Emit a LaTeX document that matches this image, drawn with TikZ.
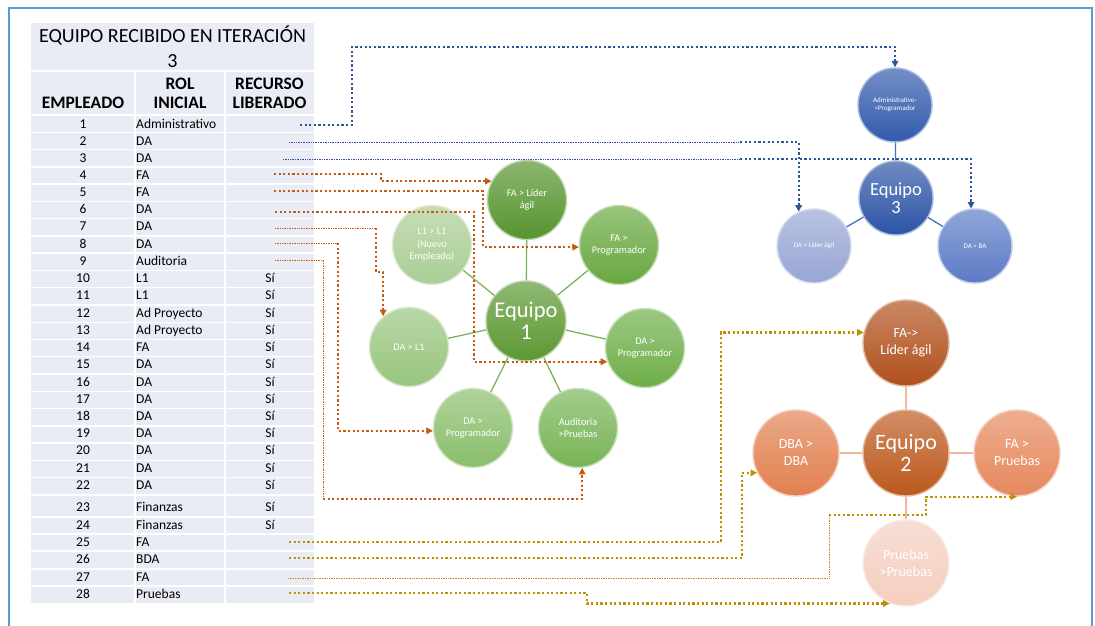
\documentclass[tikz,border=0pt]{standalone}
\usepackage{fontspec}
\setmainfont{Carlito}
\usetikzlibrary{arrows.meta,calc}

\newcommand\setfs[2]{\fontsize{#1}{#2}\selectfont}

% table and frame
\definecolor{tablebg}{RGB}{233,235,245}
\definecolor{framecol}{RGB}{91,155,213}
% team 1 (green)
\definecolor{gC}{RGB}{92,152,50}
\definecolor{gFL}{RGB}{86,148,46}
\definecolor{gFP}{RGB}{104,168,64}
\definecolor{gDPr}{RGB}{110,174,72}
\definecolor{gAud}{RGB}{120,180,86}
\definecolor{gDPl}{RGB}{138,190,108}
\definecolor{gDL}{RGB}{152,197,126}
\definecolor{gL}{RGB}{170,205,148}
\definecolor{gspoke}{RGB}{125,180,90}
% team 3 (blue)
\definecolor{bAdm}{RGB}{50,90,172}
\definecolor{bC}{RGB}{44,84,165}
\definecolor{bDL}{RGB}{152,166,212}
\definecolor{bDB}{RGB}{92,123,198}
\definecolor{bspoke}{RGB}{68,114,196}
% team 2 (orange)
\definecolor{oFL}{RGB}{176,80,28}
\definecolor{oC}{RGB}{188,88,28}
\definecolor{oDBA}{RGB}{226,128,80}
\definecolor{oFP}{RGB}{230,136,92}
\definecolor{oPr}{RGB}{245,206,192}
\definecolor{ospoke}{RGB}{244,182,158}
% connectors
\definecolor{linkO}{RGB}{197,90,17}
\definecolor{linkB}{RGB}{47,85,151}
\definecolor{linkY}{RGB}{191,144,0}

\tikzset{
  ballnode/.style={circle, inner sep=0pt, align=center, text=white,
    top color=#1!68!white, bottom color=#1, draw=#1!40!white, line width=1.4pt},
  gsmall/.style={ballnode=#1, minimum size=79pt, font=\setfs{10.2}{12.5}},
  gbig/.style={ballnode=#1, minimum size=80pt, font=\setfs{22.5}{22}},
  bsmall/.style={ballnode=#1, minimum size=74pt, font=\setfs{7}{8}},
  bbig/.style={ballnode=#1, minimum size=74pt, font=\setfs{18.5}{18}},
  osmall/.style={ballnode=#1, minimum size=86pt, font=\setfs{14}{17}},
  obig/.style={ballnode=#1, minimum size=86pt, font=\setfs{22}{22}},
  spoke/.style={draw=#1, line width=1.3pt},
  thicklink/.style={draw=#1, line width=2.2pt, dash pattern=on 2.2pt off 2.4pt},
  thinlink/.style={draw=#1, line width=0.9pt, dash pattern=on 0.9pt off 0.8pt},
  tip/.style={-{Triangle[length=6.5pt,width=6.5pt]}},
  cell/.style={inner sep=0pt, text height=9.5pt, text depth=2.8pt, font=\setfs{13.5}{16}},
  headcell/.style={inner sep=0pt, font=\bfseries\setfs{17.5}{19}},
  sep/.style={draw=white, line width=1.4pt},
  frameline/.style={draw=framecol, line width=1.6pt}
}

\begin{document}
\begin{tikzpicture}[x=1pt,y=-1pt]
\useasboundingbox (0,0) rectangle (1095,626);
\fill[white] (0,0) rectangle (1095,626);

% outer frame
\draw[frameline] (9,626) -- (9,8) -- (1092,8) -- (1092,626);

% ---------- table ----------
\fill[tablebg] (31,23) rectangle (314,603);
\draw[sep] (31,71) -- (314,71);
\draw[sep] (31,115) -- (314,115);
\foreach \k in {1,...,22} \draw[sep] (31,{115+17.27*\k}) -- (314,{115+17.27*\k});
\foreach \y in {517,534,551,569,586} \draw[sep] (31,\y) -- (314,\y);
\draw[sep] (135,71) -- (135,603);
\draw[sep] (225,71) -- (225,603);

\node[inner sep=0pt, font=\setfs{20}{22}] (title1) at (172.5,35) {EQUIPO RECIBIDO EN ITERACIÓN};
\node[inner sep=0pt, font=\setfs{20}{22}] (title2) at (172.5,61) {3};
\node[headcell] (hEmp) at (83,103) {EMPLEADO};
\node[headcell] (hRol1) at (180,84) {ROL};
\node[headcell] (hRol2) at (180,103) {INICIAL};
\node[headcell] (hRec1) at (269.5,84) {RECURSO};
\node[headcell] (hRec2) at (269.5,103) {LIBERADO};

\foreach \n/\y/\r in {1/125/Administrativo, 2/142/DA, 3/159/DA, 4/176/FA, 5/193/FA,
    6/210/DA, 7/227/DA, 8/245/DA, 9/262/Auditoria, 10/279/L1, 11/296/L1,
    12/314/Ad Proyecto, 13/331/Ad Proyecto, 14/348/FA, 15/365/DA, 16/383/DA,
    17/400/DA, 18/417/DA, 19/434/DA, 20/451/DA, 21/469/DA, 22/486/DA,
    23/508/Finanzas, 24/526/Finanzas, 25/543/FA, 26/560/BDA, 27/578/FA, 28/595/Pruebas}{
  \node[cell] (num\n) at (83,\y) {\n};
  \node[cell, anchor=west] (rol\n) at (136,\y) {\r};
}
\foreach \n/\y in {10/279, 11/296, 12/314, 13/331, 14/348, 15/365, 16/383, 17/400,
    18/417, 19/434, 20/451, 21/469, 22/486, 23/508, 24/526}{
  \node[cell] (lib\n) at (270,\y) {Sí};
}

% ---------- team 1 ----------
\node[gbig=gC]    (g0) at (526,321) {Equipo \\ 1};
\node[gsmall=gFL] (g1) at (527,200) {FA > Líder \\ ágil};
\node[gsmall=gFP] (g2) at (619,245) {FA > \\ Programador};
\node[gsmall=gDPr](g3) at (645,348) {DA > \\ Programador};
\node[gsmall=gAud](g4) at (578,428) {Auditoria \\ >Pruebas};
\node[gsmall=gDPl](g5) at (473,428) {DA > \\ Programador};
\node[gsmall=gDL] (g6) at (409,347) {DA > L1};
\node[gsmall=gL]  (g7) at (432,245) {L1 > L1 \\ (Nuevo \\ Empleado)};
\foreach \i in {1,...,7} \draw[spoke=gspoke] (g0) -- (g\i);

% ---------- team 3 ----------
\node[bbig=bC]     (b0) at (896,198) {Equipo \\ 3};
\node[bsmall=bAdm] (b1) at (895,105) {Administrativo- \\ >Programador};
\node[bsmall=bDL]  (b2) at (814,246) {DA > Líder ágil};
\node[bsmall=bDB]  (b3) at (975,246) {DA > BA};
\foreach \i in {1,2,3} \draw[spoke=bspoke] (b0) -- (b\i);

% ---------- team 2 ----------
\node[obig=oC]      (o0) at (906,453) {Equipo \\ 2};
\node[osmall=oFL]   (o1) at (906,343) {FA-> \\ Líder ágil};
\node[osmall=oDBA]  (o2) at (796,453) {DBA > \\ DBA};
\node[osmall=oFP]   (o3) at (1017,453) {FA > \\ Pruebas};
\node[osmall=oPr]   (o4) at (906,563) {Pruebas \\ >Pruebas};
\foreach \i in {1,...,4} \draw[spoke=ospoke] (o0) -- (o\i);

% ---------- connector start points ----------
\coordinate (s1) at (300,125);
\coordinate (s2) at (289,142);
\coordinate (s3) at (283,159);
\coordinate (s4) at (274,174);
\coordinate (s5) at (274,191);
\coordinate (s6) at (275,212);
\coordinate (s7) at (275,228);
\coordinate (s8) at (275,243);
\coordinate (s9) at (275,260);
\coordinate (s25) at (289,542);
\coordinate (s26) at (289,558);
\coordinate (s27) at (288,578);
\coordinate (s28) at (289,593);

% blue links to team 3
\draw[thicklink=linkB, tip] (s1) -- (352,125) -- (352,47) -| (b1.north);
\draw[thinlink=linkB] (s2) -- (740,142);
\draw[thicklink=linkB, tip] (740,142) -| (b2.114);
\draw[thinlink=linkB] (s3) -- (740,159);
\draw[thicklink=linkB, tip] (740,159) -| (b3.96);

% orange links to team 1
\draw[thicklink=linkO, tip] (s4) -- (381,174) |- (g1.152.5);
\draw[thicklink=linkO, tip] (s5) -- (483,191) |- (g2.183);
\draw[thicklink=linkO, tip] (s6) -- (474,212) |- (g3.200.5);
\draw[thinlink=linkO] (s7) -- (376,228);
\draw[thicklink=linkO, tip] (376,228) -- (376,272) -| (g6.130.5);
\draw[thinlink=linkO] (s8) -- (338,243);
\draw[thicklink=linkO, tip] (338,243) |- (g5.184);
\draw[thinlink=linkO] (s9) -- (323,260) -- (323,499);
\draw[thicklink=linkO, tip] (323,499) -| (g4.276);

% gold links to team 2
\draw[thicklink=linkY, tip] (s25) -- (721,542) |- (o1.166.6);
\draw[thicklink=linkY, tip] (s26) -- (742,558) |- (o2.207.7);
\draw[thinlink=linkY] (s27) -- (829,578) -- (829,515);
\draw[thicklink=linkY, tip] (829,515) -- (926,515) |- (o3.south);
\draw[thicklink=linkY, tip] (s28) -- (587,593) |- (o4.248.5);
\end{tikzpicture}
\end{document}
